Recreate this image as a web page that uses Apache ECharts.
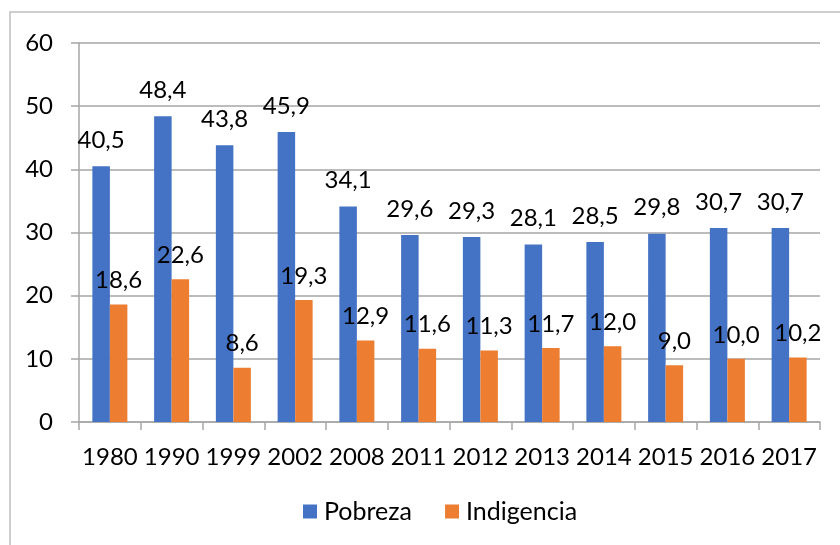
<!DOCTYPE html>
<html>
<head>
<meta charset="utf-8">
<script src="https://cdn.jsdelivr.net/npm/echarts@6/dist/echarts.min.js"></script>
<style>
  html, body { margin: 0; padding: 0; background: #fff; }
  #main { width: 840px; height: 545px; }
</style>
</head>
<body>
<div id="main"></div>
<script>
// datos
const years = ['1980', '1990', '1999', '2002', '2008', '2011', '2012', '2013', '2014', '2015', '2016', '2017'];
const pobreza = [40.5, 48.4, 43.8, 45.9, 34.1, 29.6, 29.3, 28.1, 28.5, 29.8, 30.7, 30.7];
const indigencia = [18.6, 22.6, 8.6, 19.3, 12.9, 11.6, 11.3, 11.7, 12.0, 9.0, 10.0, 10.2];

const font = 'Lato, "Open Sans", sans-serif';
const fmt = p => p.value.toFixed(1).replace('.', ',');

let myChart = echarts.init(document.getElementById('main'));
let option = {
  animation: false,
  textStyle: { fontFamily: font },
  graphic: [
    {
      type: 'polyline',
      shape: { points: [[10, 560], [10, 12], [860, 12]] },
      style: { stroke: '#bfbfbf', lineWidth: 1.5, fill: null }
    }
  ],
  grid: { left: 79, right: 20, top: 43, bottom: 123 },
  legend: {
    bottom: 16,
    left: 298,
    itemWidth: 14,
    itemHeight: 14,
    itemGap: 33,
    icon: 'rect',
    textStyle: { fontSize: 25, color: '#000', fontFamily: font, padding: [0, 0, 0, 2] }
  },
  xAxis: {
    type: 'category',
    data: years,
    axisLine: { lineStyle: { color: '#a6a6a6', width: 1.5 } },
    axisTick: { show: true, length: 8, lineStyle: { color: '#a6a6a6', width: 1.5 } },
    axisLabel: { fontSize: 24, color: '#000', margin: 23, interval: 0, hideOverlap: false, fontFamily: font }
  },
  yAxis: {
    type: 'value',
    min: 0,
    max: 60,
    interval: 10,
    axisLine: { show: true, lineStyle: { color: '#a6a6a6', width: 1.5 } },
    axisTick: { show: true, length: 8, lineStyle: { color: '#a6a6a6', width: 1.5 } },
    splitLine: { lineStyle: { color: '#a6a6a6', width: 1.5 } },
    axisLabel: { fontSize: 24, color: '#000', margin: 26, fontFamily: font }
  },
  series: [
    {
      name: 'Pobreza',
      type: 'bar',
      data: pobreza,
      barWidth: 17.5,
      barGap: '0%',
      itemStyle: { color: '#4472C4' },
      label: { show: true, position: 'top', distance: 14, fontSize: 24, color: '#000', formatter: fmt, fontFamily: font }
    },
    {
      name: 'Indigencia',
      type: 'bar',
      data: indigencia,
      barWidth: 17.5,
      barGap: '0%',
      itemStyle: { color: '#ED7D31' },
      label: { show: true, position: 'top', distance: 12, fontSize: 24, color: '#000', formatter: fmt, fontFamily: font }
    }
  ]
};
myChart.setOption(option);
</script>
</body>
</html>
